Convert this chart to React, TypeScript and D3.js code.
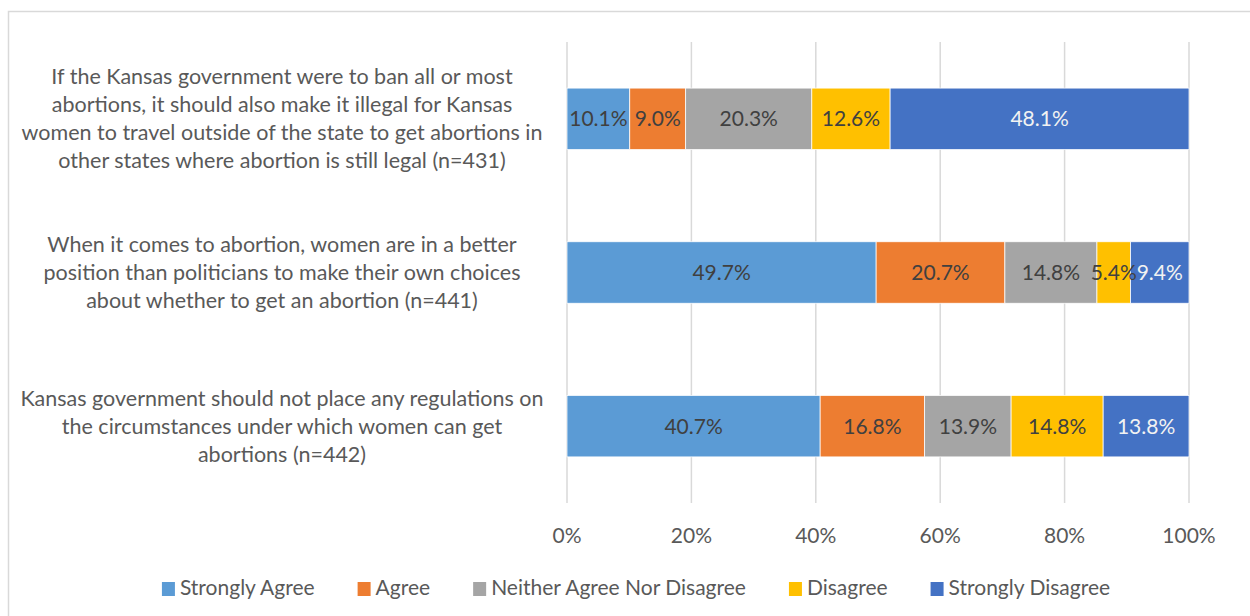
import React, { useEffect, useRef } from "react";
import * as d3 from "d3";

// categories, top to bottom, already broken into lines as in the source
const categories = [
  [
    "If the Kansas government were to ban all or most",
    "abortions, it should also make it illegal for Kansas",
    "women to travel outside of the state to get abortions in",
    "other states where abortion is still legal (n=431)",
  ],
  [
    "When it comes to abortion, women are in a better",
    "position than politicians to make their own choices",
    "about whether to get an abortion (n=441)",
  ],
  [
    "Kansas government should not place any regulations on",
    "the circumstances under which women can get",
    "abortions (n=442)",
  ],
];

const seriesNames = [
  "Strongly Agree",
  "Agree",
  "Neither Agree Nor Disagree",
  "Disagree",
  "Strongly Disagree",
];
const seriesColors = ["#5B9BD5", "#ED7D31", "#A5A5A5", "#FFC000", "#4472C4"];

// values per category, in series order
const stronglyAgree = [10.1, 49.7, 40.7];
const agree = [9.0, 20.7, 16.8];
const neither = [20.3, 14.8, 13.9];
const disagree = [12.6, 5.4, 14.8];
const stronglyDisagree = [48.1, 9.4, 13.8];

const tickValues = [0, 20, 40, 60, 80, 100];

const FONT = "Lato, 'Open Sans', sans-serif";

const W = 1250;
const H = 616;

const App = () => {
  const legendRef = useRef<SVGGElement>(null);

  useEffect(() => {
    document.body.style.margin = "0";
  }, []);

  const x = d3.scaleLinear().domain([0, 100]).range([567, 1189]);
  const y = d3
    .scaleBand<number>()
    .domain(d3.range(categories.length))
    .range([42, 503])
    .paddingInner(0.6)
    .paddingOuter(0.3);

  const table = categories.map((_, i) => {
    const vals = [stronglyAgree[i], agree[i], neither[i], disagree[i], stronglyDisagree[i]];
    const total = d3.sum(vals);
    const row: any = { idx: i };
    seriesNames.forEach((s, k) => (row[s] = (vals[k] / total) * 100));
    row.raw = vals;
    return row;
  });
  const stacked = d3.stack<any>().keys(seriesNames)(table);

  // legend layout
  useEffect(() => {
    const g = d3.select(legendRef.current);
    g.selectAll("*").remove();
    const items = g
      .selectAll("g.item")
      .data(seriesNames)
      .join("g")
      .attr("class", "item");
    items
      .append("rect")
      .attr("width", 13)
      .attr("height", 14)
      .attr("y", -13)
      .attr("fill", (_, i) => seriesColors[i]);
    items
      .append("text")
      .attr("x", 18)
      .attr("font-family", FONT)
      .attr("font-size", 21)
      .attr("fill", "#595959")
      .text((d) => d);
    const widths: number[] = [];
    items.each(function () {
      widths.push(18 + (d3.select(this).select("text").node() as SVGTextElement).getComputedTextLength());
    });
    const gap = 43;
    const total = d3.sum(widths) + gap * (widths.length - 1);
    let cx = 636 - total / 2;
    items.attr("transform", (_, i) => {
      const t = `translate(${cx},595)`;
      cx += widths[i] + gap;
      return t;
    });
  }, []);

  return (
    <svg width={W} height={H} style={{ display: "block", background: "#fff" }}>
      <rect x={8.5} y={11.5} width={1270} height={620} fill="#fff" stroke="#d9d9d9" strokeWidth={1.5} />
      {/* gridlines */}
      {tickValues.map((t) => (
        <line key={t} x1={x(t)} x2={x(t)} y1={42} y2={503} stroke="#d9d9d9" strokeWidth={1.5} />
      ))}
      {/* bars */}
      {stacked.map((layer, k) => (
        <g key={layer.key} fill={seriesColors[k]}>
          {layer.map((d, i) => (
            <rect
              key={i}
              x={x(d[0])}
              width={x(d[1]) - x(d[0])}
              y={y(i)}
              height={y.bandwidth()}
              stroke="#fff"
              strokeWidth={0.75}
            />
          ))}
        </g>
      ))}
      {/* data labels */}
      {stacked.map((layer, k) =>
        layer.map((d, i) => (
          <text
            key={`${k}-${i}`}
            x={(x(d[0]) + x(d[1])) / 2}
            y={(y(i) as number) + y.bandwidth() / 2}
            dy="0.35em"
            textAnchor="middle"
            fontFamily={FONT}
            fontSize={21}
            fill={k === 4 ? "#F2F2F2" : "#404040"}
          >
            {d3.format(".1f")(table[i].raw[k])}%
          </text>
        ))
      )}
      {/* category labels */}
      {categories.map((lines, i) => {
        const cy = (y(i) as number) + y.bandwidth() / 2;
        const lh = 28;
        const top = cy - ((lines.length - 1) * lh) / 2;
        return (
          <text
            key={i}
            textAnchor="middle"
            fontFamily={FONT}
            fontSize={21.5}
            fill="#595959"
          >
            {lines.map((l, j) => (
              <tspan key={j} x={282} y={top + j * lh} dy="0.35em">
                {l}
              </tspan>
            ))}
          </text>
        );
      })}
      {/* x axis ticks */}
      {tickValues.map((t) => (
        <text
          key={t}
          x={x(t)}
          y={536}
          dy="0.35em"
          textAnchor="middle"
          fontFamily={FONT}
          fontSize={21}
          fill="#595959"
        >
          {t}%
        </text>
      ))}
      <g ref={legendRef} />
    </svg>
  );
};

export default App;
